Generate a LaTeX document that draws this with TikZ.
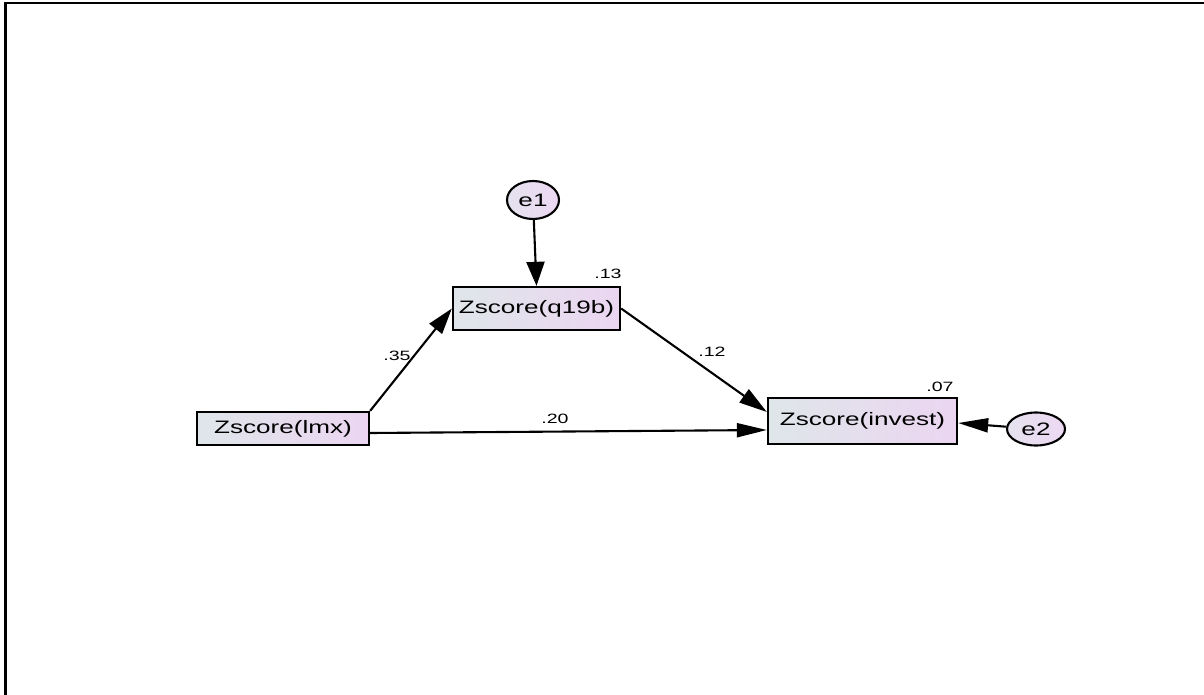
\documentclass[tikz,border=0pt]{standalone}
\usepackage{fontspec}
\setmainfont{Liberation Sans}
\usepackage{graphicx}
\usetikzlibrary{arrows.meta,calc,shapes.geometric}
\definecolor{boxL}{HTML}{DFE6EA}
\definecolor{boxR}{HTML}{EBD5F1}
\definecolor{ellL}{HTML}{E4E2EE}
\definecolor{ellR}{HTML}{EDD8F3}
\newcommand{\hs}[1]{\scalebox{1.45}[1]{#1}}
\begin{document}
\begin{tikzpicture}[x=1pt,y=-1pt,
  var/.style={draw=black, line width=2.3pt, left color=boxL, right color=boxR, inner sep=0pt, font=\fontsize{18}{18}\selectfont},
  err/.style={ellipse, draw=black, line width=2.1pt, left color=ellL, right color=ellR, inner sep=0pt, font=\fontsize{18}{18}\selectfont},
  coef/.style={inner sep=0pt, font=\fontsize{13.5}{13.5}\selectfont},
  arr/.style={line width=2.1pt, draw=black}
]
\useasboundingbox (0,0) rectangle (1204,695);
\draw[line width=2.6pt] (5.3,695) -- (5.3,3) -- (1204,3);

\node[var, minimum width=167pt, minimum height=43pt] (q19b) at (536.5,308.5) {\hs{Zscore(q19b)}};
\node[var, minimum width=172pt, minimum height=33pt] (lmx) at (283,428.5) {\hs{Zscore(lmx)}};
\node[var, minimum width=189pt, minimum height=46pt] (inv) at (862.5,421) {\hs{Zscore(invest)}};
\node[err, minimum width=52pt, minimum height=38pt] (e1) at (533,200) {\hs{e1}};
\node[err, minimum width=58pt, minimum height=33pt] (e2) at (1036,429) {\hs{e2}};

\draw[arr, -{Triangle[length=24pt,width=18pt]}] (e1) -- (q19b.north);
\draw[arr, -{Triangle[length=26pt,width=16pt]}] (lmx.north east) -- (q19b.west);
\draw[arr, -{Triangle[length=28pt,width=16pt]}] (q19b.east) -- ([yshift=9pt]inv.west);
\draw[arr, -{Triangle[length=30pt,width=14pt]}] ([yshift=-4.5pt]lmx.east) -- ([yshift=-9pt]inv.west);
\draw[arr, -{Triangle[length=30pt,width=14pt]}] (e2) -- ([yshift=-2pt]inv.east);

\node[coef] (c13) at (608,274) {\hs{.13}};
\node[coef] (c07) at (940,387) {\hs{.07}};
\node[coef] (c35) at (397,356) {\hs{.35}};
\node[coef] (c12) at (712,352) {\hs{.12}};
\node[coef] (c20) at (555,419) {\hs{.20}};
\end{tikzpicture}
\end{document}
